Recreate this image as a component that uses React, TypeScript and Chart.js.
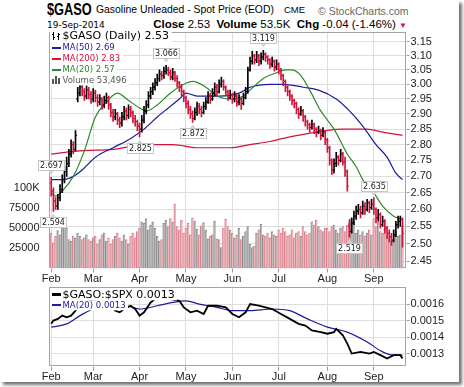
import React, { useEffect, useRef } from 'react';
import { Chart, registerables } from 'chart.js';

Chart.register(...registerables);
Chart.defaults.font.family = '"Liberation Sans", Arial, sans-serif';

// ---------------- data ----------------
const monthLabels = ['Feb', 'Mar', 'Apr', 'May', 'Jun', 'Jul', 'Aug', 'Sep'];
const monthStarts = [0, 19, 40, 61, 82, 103, 125, 146];
const priceTicks = [2.45, 2.5, 2.55, 2.6, 2.65, 2.7, 2.75, 2.8, 2.85, 2.9, 2.95, 3.0, 3.05, 3.1, 3.15];
const volumeTicks = [25000, 50000, 75000, 100000];
const ratioTicks = [0.0013, 0.0014, 0.0015, 0.0016];

const opens = [
  2.68, 2.655, 2.625, 2.61, 2.635, 2.66, 2.69, 2.715, 2.74, 2.77, 2.8, 2.785, 2.95, 2.97, 2.99, 2.975, 2.96, 2.98, 2.965,
  2.95, 2.97, 2.955, 2.94, 2.95, 2.93, 2.945, 2.955, 2.93, 2.905, 2.89, 2.9, 2.88, 2.87, 2.89, 2.91, 2.895, 2.915, 2.905, 2.885, 2.875,
  2.86, 2.85, 2.88, 2.91, 2.93, 2.96, 2.975, 2.99, 3.005, 3.02, 3.035, 3.03, 3.045, 3.05, 3.04, 3.025, 3.04, 3.02, 3.005, 2.99, 2.975,
  2.955, 2.935, 2.915, 2.9, 2.885, 2.905, 2.925, 2.915, 2.905, 2.925, 2.94, 2.96, 2.95, 2.97, 2.99, 2.975, 3.0, 3.01, 2.99, 2.975, 2.955,
  2.965, 2.95, 2.96, 2.94, 2.95, 2.935, 2.955, 2.975, 3.05, 3.08, 3.1, 3.085, 3.1, 3.08, 3.095, 3.105, 3.095, 3.085, 3.07, 3.08, 3.06,
  3.07, 3.05, 3.03, 3.01, 2.99, 2.975, 2.96, 2.945, 2.935, 2.915, 2.9, 2.91, 2.89, 2.875, 2.865, 2.855, 2.865, 2.85, 2.84, 2.845, 2.83, 2.84,
  2.815, 2.79, 2.75, 2.72, 2.74, 2.76, 2.75, 2.77, 2.745, 2.715, 2.55, 2.535, 2.56, 2.58, 2.595, 2.6, 2.59, 2.61, 2.6, 2.62, 2.605,
  2.615, 2.6, 2.575, 2.585, 2.555, 2.565, 2.545, 2.53, 2.52, 2.51, 2.525, 2.555, 2.565, 2.57,
];
const highs = [
  2.697, 2.665, 2.635, 2.645, 2.675, 2.705, 2.73, 2.76, 2.785, 2.815, 2.81, 2.845, 2.99, 3.01, 3.005, 2.985, 2.995, 2.99, 2.975,
  2.985, 2.98, 2.965, 2.965, 2.955, 2.96, 2.97, 2.96, 2.935, 2.915, 2.915, 2.905, 2.89, 2.905, 2.925, 2.92, 2.93, 2.925, 2.91, 2.895, 2.88,
  2.87, 2.895, 2.925, 2.945, 2.975, 2.99, 3.005, 3.02, 3.035, 3.05, 3.045, 3.06, 3.066, 3.06, 3.05, 3.055, 3.045, 3.03, 3.01, 3.0, 2.98,
  2.96, 2.945, 2.925, 2.91, 2.92, 2.94, 2.935, 2.925, 2.94, 2.955, 2.975, 2.97, 2.985, 3.005, 3.0, 3.015, 3.025, 3.015, 2.995, 2.98, 2.98,
  2.97, 2.975, 2.965, 2.965, 2.955, 2.97, 2.99, 3.06, 3.095, 3.115, 3.105, 3.115, 3.105, 3.11, 3.119, 3.11, 3.1, 3.09, 3.095, 3.085, 3.085,
  3.075, 3.055, 3.035, 3.015, 2.995, 2.98, 2.965, 2.95, 2.94, 2.92, 2.925, 2.915, 2.895, 2.88, 2.87, 2.88, 2.87, 2.855, 2.86, 2.85, 2.855, 2.845,
  2.82, 2.795, 2.755, 2.755, 2.775, 2.765, 2.785, 2.775, 2.76, 2.72, 2.57, 2.575, 2.595, 2.61, 2.615, 2.61, 2.625, 2.62, 2.63, 2.625, 2.63,
  2.635, 2.605, 2.6, 2.59, 2.58, 2.57, 2.55, 2.54, 2.53, 2.54, 2.565, 2.58, 2.58, 2.575,
];
const lows = [
  2.64, 2.594, 2.6, 2.6, 2.625, 2.65, 2.68, 2.7, 2.73, 2.76, 2.77, 2.78, 2.94, 2.96, 2.96, 2.945, 2.95, 2.95, 2.935,
  2.94, 2.94, 2.925, 2.93, 2.915, 2.92, 2.935, 2.915, 2.89, 2.875, 2.88, 2.865, 2.855, 2.86, 2.88, 2.88, 2.885, 2.89, 2.87, 2.86, 2.845,
  2.825, 2.84, 2.87, 2.9, 2.92, 2.95, 2.965, 2.98, 2.995, 3.01, 3.015, 3.02, 3.035, 3.03, 3.015, 3.015, 3.01, 2.99, 2.975, 2.96, 2.94,
  2.92, 2.9, 2.885, 2.872, 2.88, 2.895, 2.9, 2.89, 2.9, 2.915, 2.935, 2.935, 2.945, 2.96, 2.96, 2.97, 2.99, 2.98, 2.96, 2.945, 2.95,
  2.935, 2.94, 2.925, 2.93, 2.915, 2.93, 2.95, 2.97, 3.045, 3.07, 3.07, 3.075, 3.065, 3.07, 3.085, 3.08, 3.07, 3.055, 3.06, 3.045, 3.05,
  3.035, 3.015, 2.995, 2.975, 2.96, 2.945, 2.93, 2.92, 2.9, 2.885, 2.895, 2.875, 2.86, 2.85, 2.84, 2.85, 2.835, 2.825, 2.835, 2.815, 2.825, 2.8,
  2.775, 2.735, 2.705, 2.71, 2.73, 2.735, 2.745, 2.735, 2.7, 2.655, 2.519, 2.53, 2.555, 2.57, 2.585, 2.575, 2.585, 2.585, 2.595, 2.59, 2.6,
  2.585, 2.56, 2.565, 2.545, 2.55, 2.53, 2.515, 2.505, 2.495, 2.505, 2.52, 2.545, 2.55, 2.49,
];
const closes = [
  2.655, 2.625, 2.61, 2.635, 2.66, 2.69, 2.715, 2.74, 2.77, 2.8, 2.785, 2.83, 2.97, 2.99, 2.975, 2.96, 2.98, 2.965, 2.95,
  2.97, 2.955, 2.94, 2.95, 2.93, 2.945, 2.955, 2.93, 2.905, 2.89, 2.9, 2.88, 2.87, 2.89, 2.91, 2.895, 2.915, 2.905, 2.885, 2.875, 2.86,
  2.85, 2.88, 2.91, 2.93, 2.96, 2.975, 2.99, 3.005, 3.02, 3.035, 3.03, 3.045, 3.05, 3.04, 3.025, 3.04, 3.02, 3.005, 2.99, 2.975, 2.955,
  2.935, 2.915, 2.9, 2.885, 2.905, 2.925, 2.915, 2.905, 2.925, 2.94, 2.96, 2.95, 2.97, 2.99, 2.975, 3.0, 3.01, 2.99, 2.975, 2.955, 2.965,
  2.95, 2.96, 2.94, 2.95, 2.935, 2.955, 2.975, 3.05, 3.08, 3.1, 3.085, 3.1, 3.08, 3.095, 3.105, 3.095, 3.085, 3.07, 3.08, 3.06, 3.07,
  3.05, 3.03, 3.01, 2.99, 2.975, 2.96, 2.945, 2.935, 2.915, 2.9, 2.91, 2.89, 2.875, 2.865, 2.855, 2.865, 2.85, 2.84, 2.845, 2.83, 2.84, 2.815,
  2.79, 2.75, 2.72, 2.74, 2.76, 2.75, 2.77, 2.745, 2.715, 2.67, 2.535, 2.56, 2.58, 2.595, 2.6, 2.59, 2.61, 2.6, 2.62, 2.605, 2.615,
  2.6, 2.575, 2.585, 2.555, 2.565, 2.545, 2.53, 2.52, 2.51, 2.525, 2.555, 2.565, 2.57, 2.53,
];
const volumes = [
  44000, 32000, 40000, 47000, 42000, 52000, 55000, 50000, 36000, 34000, 40000, 38000, 44000, 40000, 36000, 38000, 42000, 36000, 34000,
  38000, 40000, 30000, 36000, 42000, 44000, 34000, 38000, 30000, 36000, 40000, 44000, 38000, 34000, 42000, 36000, 30000, 40000, 44000, 38000, 46000,
  50000, 58000, 56000, 62000, 48000, 54000, 58000, 50000, 40000, 34000, 36000, 56000, 60000, 52000, 62000, 58000, 80000, 52000, 48000, 60000, 44000,
  50000, 56000, 42000, 63000, 59000, 49000, 42000, 53000, 57000, 48000, 37000, 40000, 42000, 59000, 37000, 36000, 26000, 50000, 61000, 52000, 48000,
  44000, 38000, 42000, 50000, 36000, 40000, 46000, 52000, 30000, 26000, 28000, 44000, 48000, 55000, 42000, 40000, 44000, 38000, 46000, 42000, 40000,
  48000, 44000, 50000, 46000, 40000, 42000, 48000, 38000, 44000, 46000, 40000, 52000, 46000, 42000, 44000, 58000, 54000, 60000, 52000, 48000, 46000, 50000,
  50000, 46000, 52000, 54000, 48000, 44000, 50000, 52000, 46000, 54000, 56000, 62000, 58000, 44000, 48000, 42000, 46000, 40000, 44000, 48000, 42000,
  62000, 52000, 58000, 46000, 44000, 50000, 40000, 38000, 34000, 36000, 46000, 40000, 42000, 53496,
];

const ma20Idx = [0, 2, 5, 10, 15, 20, 25, 30, 35, 40, 43, 48, 54, 60, 64, 70, 75, 81, 87, 90, 96, 102, 106, 109, 113, 117, 122, 128, 134, 138, 141, 146, 150, 155, 159];
const ma20Val = [2.65, 2.64, 2.655, 2.7, 2.78, 2.89, 2.94, 2.97, 2.945, 2.92, 2.91, 2.93, 2.97, 3.0, 3.01, 2.99, 2.96, 2.95, 2.96, 2.98, 3.02, 3.04, 3.05, 3.05, 3.03, 2.98, 2.91, 2.85, 2.77, 2.73, 2.69, 2.65, 2.61, 2.58, 2.57];
const ma50Idx = [0, 5, 10, 14, 20, 28, 36, 42, 48, 53, 58, 61, 66, 70, 76, 85, 90, 99, 105, 114, 121, 129, 135, 141, 147, 152, 156, 159];
const ma50Val = [2.69, 2.69, 2.7, 2.72, 2.76, 2.79, 2.82, 2.85, 2.89, 2.92, 2.95, 2.97, 2.96, 2.96, 2.96, 2.97, 2.99, 3.0, 3.0, 2.99, 2.98, 2.95, 2.91, 2.86, 2.8, 2.76, 2.71, 2.69];
const ma200Idx = [0, 13, 28, 43, 55, 66, 81, 90, 99, 105, 120, 131, 143, 150, 159];
const ma200Val = [2.77, 2.78, 2.785, 2.8, 2.8, 2.79, 2.79, 2.8, 2.81, 2.82, 2.84, 2.85, 2.85, 2.84, 2.83];

const ratioIdx = [0, 1, 3, 5, 7, 9, 11, 14, 18, 22, 26, 29, 31, 33, 36, 38, 40, 42, 45, 47, 50, 54, 58, 60, 63, 66, 69, 71, 75, 79, 82, 85, 88, 90, 94, 97, 100, 104, 108, 112, 115, 118, 122, 125, 128, 129, 132, 134, 136, 140, 144, 146, 149, 152, 155, 158, 159];
const ratioVal = [0.00148, 0.0015, 0.00151, 0.00153, 0.00152, 0.00153, 0.00156, 0.0016, 0.00162, 0.00161, 0.0016, 0.00156, 0.00155, 0.00157, 0.00159, 0.00157, 0.00153, 0.00155, 0.00161, 0.00163, 0.00165, 0.00163, 0.00162, 0.00158, 0.00155, 0.00156, 0.00154, 0.00159, 0.00159, 0.00158, 0.00154, 0.00152, 0.00155, 0.0016, 0.00159, 0.00158, 0.00157, 0.00154, 0.00151, 0.00148, 0.00147, 0.00144, 0.00143, 0.00142, 0.00143, 0.00145, 0.00141, 0.00136, 0.0013, 0.00131, 0.0013, 0.00131, 0.00129, 0.00127, 0.00129, 0.00129, 0.00127];
const ratioMaIdx = [0, 7, 13, 19, 25, 34, 40, 48, 55, 61, 67, 75, 82, 90, 100, 108, 116, 125, 134, 143, 150, 155, 159];
const ratioMaVal = [0.00146, 0.00148, 0.00153, 0.00157, 0.00158, 0.00159, 0.00157, 0.00159, 0.00161, 0.00162, 0.0016, 0.00158, 0.00156, 0.00156, 0.00157, 0.00156, 0.00151, 0.00146, 0.00143, 0.00137, 0.00131, 0.00129, 0.00129];

const peakIdx = [0, 52, 96, 146];
const troughIdx = [1, 40, 64, 135];

// ---------------- styling ----------------
const UP = '#000000';
const DOWN = '#d3123b';
const NAVY = '#1c1c9a';
const CRIMSON = '#d3123b';
const GREEN = '#2b8a2b';
const GRID = '#dedede';
const X_MIN = -1;
const X_MAX = 160.8;

const last = closes.length - 1;
const isDown = closes.map((c, i) => (i === 0 ? c < opens[0] : c < closes[i - 1]));
const barColors = isDown.map((d) => (d ? DOWN : UP));
const volFill = isDown.map((d) => (d ? '#f0b6bc' : '#bdbdbd'));
const volEdge = isDown.map((d) => (d ? '#d8808c' : '#8a8a8a'));

const pts = (xs: number[], ys: number[]) => xs.map((x, k) => ({ x, y: ys[k] }));

const framePlugin = {
  id: 'plotFrame',
  beforeDatasetsDraw(chart: any) {
    const { ctx, chartArea: a } = chart;
    ctx.save();
    ctx.strokeStyle = '#a4a4a4';
    ctx.lineWidth = 1;
    const l = Math.floor(a.left) + 0.5;
    const t = Math.floor(a.top) + 0.5;
    const r = Math.floor(a.right) - 0.5;
    const b = Math.floor(a.bottom) - 0.5;
    ctx.strokeRect(l, t, r - l, b - t);
    ctx.restore();
  },
};

const extremesPlugin = {
  id: 'extremes',
  afterDatasetsDraw(chart: any) {
    const { ctx } = chart;
    const x = chart.scales.x;
    const y = chart.scales.y;
    const items = [
      ...peakIdx.map((i) => ({ i, v: highs[i], up: true })),
      ...troughIdx.map((i) => ({ i, v: lows[i], up: false })),
    ];
    ctx.save();
    ctx.font = '8px "DejaVu Sans"';
    ctx.textAlign = 'center';
    ctx.textBaseline = 'middle';
    for (const it of items) {
      const px = x.getPixelForValue(it.i);
      const py = y.getPixelForValue(it.v);
      const text = it.v.toFixed(3);
      const w = Math.round(ctx.measureText(text).width + 3);
      const h = 10;
      const bx = Math.round(px - w / 2) + 0.5;
      const by = it.up ? Math.round(py - 7 - h) + 0.5 : Math.round(py + 6) + 0.5;
      ctx.fillStyle = '#d4d4d4';
      ctx.beginPath();
      if (it.up) {
        ctx.moveTo(px - 3, by + h);
        ctx.lineTo(px + 3, by + h);
        ctx.lineTo(px, by + h + 4);
      } else {
        ctx.moveTo(px - 3, by);
        ctx.lineTo(px + 3, by);
        ctx.lineTo(px, by - 4);
      }
      ctx.closePath();
      ctx.fill();
      ctx.fillStyle = '#ffffff';
      ctx.fillRect(bx, by, w, h);
      ctx.strokeStyle = '#c6c6c6';
      ctx.lineWidth = 1;
      ctx.strokeRect(bx, by, w, h);
      ctx.fillStyle = '#222222';
      ctx.fillText(text, bx + w / 2, by + h / 2 + 0.5);
    }
    ctx.restore();
  },
};

type Row = { text: string; color: string; kind: string; big: boolean; cy: number };

function legendPlugin(id: string, rows: Row[]) {
  return {
    id,
    afterDraw(chart: any) {
      const { ctx, chartArea: a } = chart;
      ctx.save();
      ctx.textAlign = 'left';
      ctx.textBaseline = 'middle';
      for (const r of rows) {
        ctx.font = r.big ? '11px "DejaVu Sans"' : '8.5px "DejaVu Sans"';
        const tw = ctx.measureText(r.text).width;
        const cy = a.top + r.cy;
        const h = r.big ? 12 : 10;
        ctx.fillStyle = '#ffffff';
        ctx.fillRect(a.left + 1, cy - h / 2, 14 + tw + 1, h);
        const x0 = Math.round(a.left) + 3;
        const yc = Math.round(cy);
        ctx.fillStyle = r.color;
        if (r.kind === 'line') {
          ctx.fillRect(x0, yc - 1, 9, 2);
        } else if (r.kind === 'thick') {
          ctx.fillRect(x0, yc - 1, 9, 3);
        } else if (r.kind === 'ohlc') {
          ctx.fillRect(x0 + 1, yc - 4, 1, 8);
          ctx.fillRect(x0, yc - 2, 1, 1);
          ctx.fillRect(x0 + 2, yc + 1, 1, 1);
          ctx.fillRect(x0 + 6, yc - 3, 1, 7);
          ctx.fillRect(x0 + 5, yc, 1, 1);
          ctx.fillRect(x0 + 7, yc - 2, 1, 1);
        } else if (r.kind === 'vol') {
          ctx.fillRect(x0, yc - 1, 2, 5);
          ctx.fillRect(x0 + 3, yc - 4, 2, 8);
          ctx.fillRect(x0 + 6, yc - 2, 2, 6);
        }
        ctx.fillStyle = r.color;
        ctx.fillText(r.text, a.left + 13.5, cy + 0.5);
      }
      ctx.restore();
    },
  };
}

const mainLegend = legendPlugin('mainLegend', [
  { text: `$GASO (Daily) ${closes[last].toFixed(2)}`, color: '#000000', kind: 'ohlc', big: true, cy: 4 },
  { text: `MA(50) ${ma50Val[ma50Val.length - 1].toFixed(2)}`, color: NAVY, kind: 'line', big: false, cy: 15.5 },
  { text: `MA(200) ${ma200Val[ma200Val.length - 1].toFixed(2)}`, color: CRIMSON, kind: 'line', big: false, cy: 26.5 },
  { text: `MA(20) ${ma20Val[ma20Val.length - 1].toFixed(2)}`, color: GREEN, kind: 'line', big: false, cy: 37.5 },
  { text: `Volume ${volumes[last].toLocaleString('en-US')}`, color: '#555555', kind: 'vol', big: false, cy: 48.3 },
]);

const ratioLegend = legendPlugin('ratioLegend', [
  { text: `$GASO:$SPX ${ratioVal[ratioVal.length - 1].toFixed(4)}`, color: '#000000', kind: 'thick', big: true, cy: 6.7 },
  { text: `MA(20) ${ratioMaVal[ratioMaVal.length - 1].toFixed(4)}`, color: NAVY, kind: 'line', big: false, cy: 17.7 },
]);

function xAxis(height: number, padding: number) {
  return {
    type: 'linear',
    min: X_MIN,
    max: X_MAX,
    offset: false,
    grid: { color: GRID, offset: false, tickLength: 4, tickColor: '#999999' },
    border: { display: false },
    ticks: {
      autoSkip: false,
      maxRotation: 0,
      padding,
      color: '#222222',
      font: { size: 11 },
      callback: (_v: any, i: number) => monthLabels[i],
    },
    afterBuildTicks: (s: any) => {
      s.ticks = monthStarts.map((v) => ({ value: v }));
    },
    afterFit: (s: any) => {
      s.height = height;
    },
  };
}

function topConfig(): any {
  return {
    type: 'line',
    data: {
      datasets: [
        {
          type: 'scatter',
          label: 'Open',
          data: opens.map((o, i) => ({ x: i - 0.38, y: o })),
          yAxisID: 'y',
          pointStyle: 'line',
          pointRadius: 0.8,
          pointHoverRadius: 0.8,
          pointBorderWidth: 1,
          pointBorderColor: barColors,
          pointBackgroundColor: barColors,
          order: 0,
        },
        {
          type: 'scatter',
          label: 'Close',
          data: closes.map((c, i) => ({ x: i + 0.38, y: c })),
          yAxisID: 'y',
          pointStyle: 'line',
          pointRadius: 0.8,
          pointHoverRadius: 0.8,
          pointBorderWidth: 1,
          pointBorderColor: barColors,
          pointBackgroundColor: barColors,
          order: 0,
        },
        {
          type: 'bar',
          label: 'Range',
          data: closes.map((_c, i) => ({ x: i, y: [lows[i], highs[i]] })),
          yAxisID: 'y',
          backgroundColor: barColors,
          borderWidth: 0,
          barThickness: 1,
          grouped: false,
          order: 1,
        },
        {
          type: 'line',
          label: 'MA(20)',
          data: pts(ma20Idx, ma20Val),
          yAxisID: 'y',
          borderColor: GREEN,
          borderWidth: 1.2,
          pointRadius: 0,
          cubicInterpolationMode: 'monotone',
          order: 2,
        },
        {
          type: 'line',
          label: 'MA(50)',
          data: pts(ma50Idx, ma50Val),
          yAxisID: 'y',
          borderColor: NAVY,
          borderWidth: 1.2,
          pointRadius: 0,
          cubicInterpolationMode: 'monotone',
          order: 2,
        },
        {
          type: 'line',
          label: 'MA(200)',
          data: pts(ma200Idx, ma200Val),
          yAxisID: 'y',
          borderColor: CRIMSON,
          borderWidth: 1.2,
          pointRadius: 0,
          cubicInterpolationMode: 'monotone',
          order: 2,
        },
        {
          type: 'bar',
          label: 'Volume',
          data: volumes.map((v, i) => ({ x: i, y: v })),
          yAxisID: 'yv',
          backgroundColor: volFill,
          borderColor: volEdge,
          borderWidth: { left: 1, top: 1, right: 0, bottom: 0 },
          borderSkipped: false,
          barPercentage: 1,
          categoryPercentage: 1,
          grouped: false,
          order: 10,
        },
      ],
    },
    options: {
      responsive: false,
      animation: false,
      devicePixelRatio: 1,
      events: [],
      layout: { padding: { top: 32, left: 0, right: 0, bottom: 0 } },
      plugins: { legend: { display: false }, tooltip: { enabled: false } },
      scales: {
        x: xAxis(21.5, -0.5),
        y: {
          type: 'logarithmic',
          position: 'right',
          min: 2.431,
          max: 3.185,
          grid: { color: GRID, tickLength: 3, tickColor: '#999999' },
          border: { display: false },
          ticks: {
            autoSkip: false,
            padding: 1,
            color: '#222222',
            font: { size: 11 },
            callback: (v: any) => Number(v).toFixed(2),
          },
          afterBuildTicks: (s: any) => {
            s.ticks = priceTicks.map((v) => ({ value: v }));
          },
          afterFit: (s: any) => {
            s.width = 57.5;
          },
        },
        yv: {
          type: 'linear',
          position: 'left',
          min: 0,
          max: 294000,
          grid: { display: false },
          border: { display: false },
          ticks: {
            autoSkip: false,
            padding: 1.5,
            color: '#222222',
            font: { size: 11 },
            callback: (v: any) => (Number(v) >= 100000 ? '100K' : String(v)),
          },
          afterBuildTicks: (s: any) => {
            s.ticks = volumeTicks.map((v) => ({ value: v }));
          },
          afterFit: (s: any) => {
            s.width = 49;
          },
        },
      },
    },
    plugins: [framePlugin, extremesPlugin, mainLegend],
  };
}

function bottomConfig(): any {
  return {
    type: 'line',
    data: {
      datasets: [
        {
          label: '$GASO:$SPX',
          data: pts(ratioIdx, ratioVal),
          yAxisID: 'yr',
          borderColor: '#000000',
          borderWidth: 1.8,
          pointRadius: 0,
          tension: 0,
          order: 0,
        },
        {
          label: 'MA(20)',
          data: pts(ratioMaIdx, ratioMaVal),
          yAxisID: 'yr',
          borderColor: NAVY,
          borderWidth: 1.2,
          pointRadius: 0,
          cubicInterpolationMode: 'monotone',
          order: 1,
        },
      ],
    },
    options: {
      responsive: false,
      animation: false,
      devicePixelRatio: 1,
      events: [],
      layout: { padding: { top: 4, left: 49, right: 0, bottom: 0 } },
      plugins: { legend: { display: false }, tooltip: { enabled: false } },
      scales: {
        x: xAxis(20.3, -0.8),
        yr: {
          type: 'linear',
          position: 'right',
          min: 0.00122,
          max: 0.0017,
          grid: { color: GRID, tickLength: 3, tickColor: '#999999' },
          border: { display: false },
          ticks: {
            autoSkip: false,
            padding: 1,
            color: '#222222',
            font: { size: 11 },
            callback: (v: any) => Number(v).toFixed(4),
          },
          afterBuildTicks: (s: any) => {
            s.ticks = ratioTicks.map((v) => ({ value: v }));
          },
          afterFit: (s: any) => {
            s.width = 57.5;
          },
        },
      },
    },
    plugins: [framePlugin, ratioLegend],
  };
}

export default function App() {
  const topRef = useRef<HTMLCanvasElement>(null);
  const botRef = useRef<HTMLCanvasElement>(null);

  useEffect(() => {
    const c1 = new Chart(topRef.current as HTMLCanvasElement, topConfig());
    const c2 = new Chart(botRef.current as HTMLCanvasElement, bottomConfig());
    return () => {
      c1.destroy();
      c2.destroy();
    };
  }, []);

  const abs: any = { position: 'absolute', whiteSpace: 'nowrap' };
  return (
    <div style={{ position: 'fixed', left: 0, top: 0, width: 464, height: 387, background: '#ffffff', overflow: 'hidden' }}>
      <div style={{ ...abs, left: 0, top: 0, width: 459, height: 382, background: '#ffffff', boxShadow: '3px 3px 3px rgba(0,0,0,0.55)' }} />
      <div style={{ ...abs, left: 47, top: 1, font: 'bold 16px "Liberation Sans", Arial, sans-serif', lineHeight: '17px', transform: 'scaleX(0.8)', transformOrigin: '0 0', color: '#000' }}>
        $GASO
      </div>
      <div style={{ ...abs, left: 96, top: 3.5, font: '10.4px "Liberation Sans", Arial, sans-serif', lineHeight: '12px', color: '#000' }}>
        Gasoline Unleaded - Spot Price (EOD)
      </div>
      <div style={{ ...abs, left: 284, top: 4, font: '9.5px "Liberation Sans", Arial, sans-serif', lineHeight: '12px', color: '#000' }}>
        CME
      </div>
      <div style={{ ...abs, left: 318, top: 4.5, font: '10.5px "Liberation Sans", Arial, sans-serif', lineHeight: '12px', color: '#666' }}>
        © StockCharts.com
      </div>
      <div style={{ ...abs, left: 47, top: 19.7, font: '9px "DejaVu Sans", sans-serif', lineHeight: '11px', color: '#000' }}>
        19-Sep-2014
      </div>
      <div style={{ ...abs, right: 57, top: 18, font: '11.5px "Liberation Sans", Arial, sans-serif', lineHeight: '13px', color: '#000' }}>
        <b>Close</b> 2.53&nbsp;&nbsp;<b>Volume</b> 53.5K&nbsp;&nbsp;<b>Chg</b> -0.04 (-1.46%) <span style={{ color: CRIMSON, fontSize: '8px' }}>▼</span>
      </div>
      <canvas ref={topRef} width={464} height={290} style={{ position: 'absolute', left: 0, top: 0 }} />
      <canvas ref={botRef} width={464} height={107} style={{ position: 'absolute', left: 0, top: 280 }} />
    </div>
  );
}
